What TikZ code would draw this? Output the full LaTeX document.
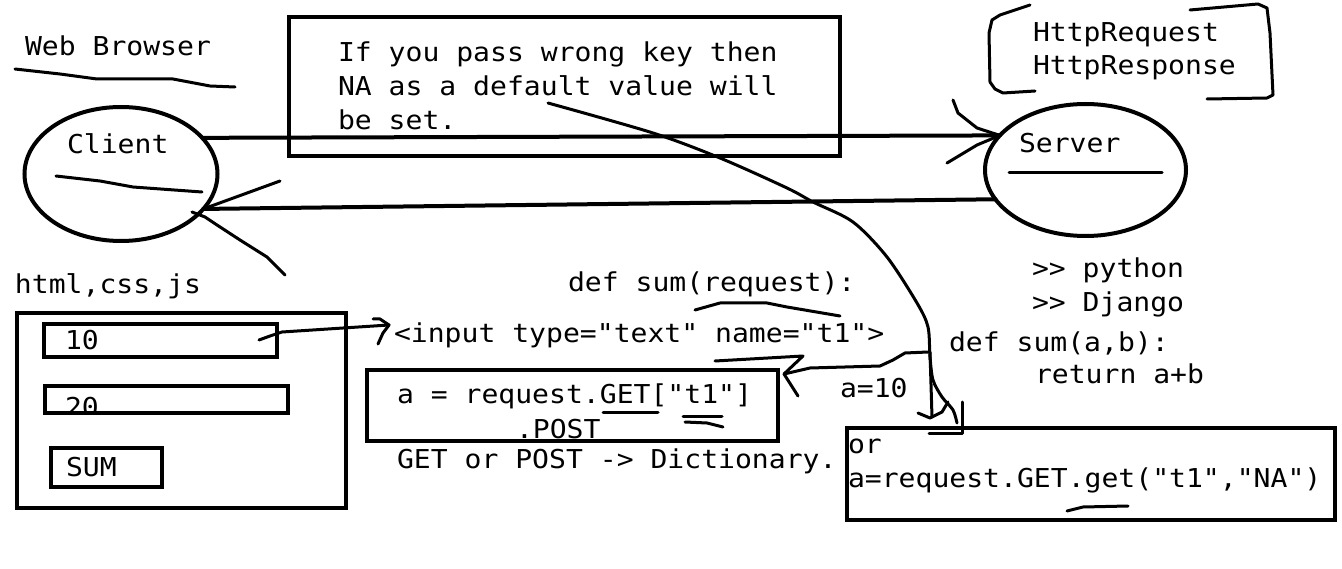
\documentclass[tikz,border=0pt]{standalone}
\usepackage{fontspec}
\setmonofont{DejaVu Sans Mono}[FakeStretch=1.08]
\usetikzlibrary{shapes.geometric}
\begin{document}
\begin{tikzpicture}[x=1pt,y=-1pt,
  txt/.style={anchor=base west, inner sep=0pt, outer sep=0pt, font=\ttfamily\fontsize{26}{34}\selectfont},
  box/.style={draw, line width=4pt, anchor=north west, inner sep=0pt, outer sep=0pt},
  oval/.style={draw, ellipse, line width=4pt, inner sep=0pt, outer sep=0pt},
  hand/.style={line width=3pt, line cap=round, line join=round},
  conn/.style={line width=4pt, line cap=round}]
\useasboundingbox[fill=white] (0,0) rectangle (1342,569);

% Web browser
\node[txt] (wb) at (25,56) {Web Browser};
\draw[hand] (15,69) -- (60,74) -- (97,79) -- (173,79) -- (210,86) -- (235,87);

% note box
\node[box, minimum width=551pt, minimum height=139pt] (note) at (289,17) {};
\node[txt] (n1) at (338,62) {If you pass wrong key then};
\node[txt] (n2) at (338,96) {NA as a default value will};
\node[txt] (n3) at (338,130) {be set.};

% client
\node[oval, minimum width=193pt, minimum height=134pt] (client) at (121,174) {};
\node[txt] (clt) at (67,154) {Client};
\draw[hand] (56,176) -- (100,181) -- (133,187) -- (202,192);

% server
\node[oval, minimum width=201pt, minimum height=132pt] (server) at (1085.5,170) {};
\node[txt] (srt) at (1019,153) {Server};
\draw[hand] (1009,173) -- (1162,173);

% http bracket
\node[txt] (hreq) at (1033,42) {HttpRequest};
\node[txt] (hres) at (1033,75) {HttpResponse};
\draw[hand] (1030,5) -- (1000,15) -- (992,20) -- (989,33) -- (990,82) -- (995,89) -- (1003,93) -- (1035,91);
\draw[hand] (1190,10) -- (1258,4) -- (1267,8) -- (1270,33) -- (1273,95) -- (1267,98) -- (1207,99);

% request / response arrows
\draw[conn] (client.24) -- (server.158);
\coordinate (ta1) at (953,100);
\coordinate (ta2) at (947,163);
\draw[hand] (ta1) -- (958,113) -- (977,128) -- (server.158) -- (977,145) -- (ta2);
\draw[conn] (server.198) -- (client.337);
\coordinate (ba1) at (280,181);
\coordinate (ba2) at (285,275);
\draw[hand] (ba1) -- (client.337);
\draw[hand] (192,212) -- (205,217) -- (217,225) -- (240,240) -- (267,257) -- (ba2);

% html form
\node[txt] (hcj) at (15,294) {html,css,js};
\node[box, minimum width=329pt, minimum height=195pt] (form) at (17,313) {};
\node[box, minimum width=233pt, minimum height=33pt] (in1) at (44,324) {};
\node[txt] (v1) at (65,350) {10};
\begin{scope}
\clip (45,386) rectangle (288,411);
\node[txt] (v2) at (65,417) {20};
\end{scope}
\node[box, minimum width=243pt, minimum height=27pt] (in2) at (45,386) {};
\node[box, minimum width=111pt, minimum height=39pt] (sum) at (51,448) {};
\node[txt] (sumt) at (66,476) {SUM};

% input tag
\node[txt] (inp) at (394,343) {<input type="text" name="t1">};
\coordinate (ia) at (259,340);
\draw[hand] (ia) -- (270,336) -- (282,332) -- (389,325);
\draw[hand] (373,319) -- (380,319) -- (389,325) -- (383,333) -- (378,344);

% def sum(request)
\node[txt] (dsr) at (568,292) {def sum(request):};
\draw[hand] (695,310) -- (720,303) -- (767,303) -- (787,307) -- (840,316);

% request.GET box
\node[box, minimum width=411pt, minimum height=71pt] (getbox) at (367,370) {};
\node[txt] (g1) at (397,403) {a = request.GET["t1"]};
\node[txt] (g2) at (516,438) {.POST};
\draw[hand] (603,412) -- (658,412);
\draw[hand] (683,416) -- (722,416);
\draw[hand] (685,422) -- (707,423) -- (723,427);
\node[txt] (gp) at (397,468) {GET or POST -> Dictionary.};

% a=10 arrow
\coordinate (tip) at (784,374);
\draw[hand] (715,361) -- (803,356) -- (tip) -- (798,396);
\draw[hand] (928,352) -- (905,353) -- (893,360) -- (880,366) -- (810,368) -- (tip);
\node[txt] (a10) at (840,398) {a=10};

% python / django
\node[txt] (py) at (1032,278) {>> python};
\node[txt] (dj) at (1032,312) {>> Django};
\node[txt] (dsab) at (949,352) {def sum(a,b):};
\node[txt] (ret) at (1035,384) {return a+b};

% or box
\node[box, minimum width=488pt, minimum height=92pt] (orbox) at (847,428) {};
\node[txt] (or1) at (848,453) {or};
\node[txt] (or2) at (848,487) {a=request.GET.get("t1","NA")};
\draw[hand] (1067,511) -- (1083,507) -- (1128,506);

% long curve from note to or box
\coordinate (lc) at (548,103);
\draw[hand] plot[smooth, tension=0.5] coordinates {(548,103) (653,133) (720,158) (787,188) (813,202) (853,222) (887,257) (917,303) (928,327) (930,357) (933,380) (942,397) (953,410) (957,423)};
\draw[hand] (930,352) -- (932,417);
\draw[hand] (918,413) -- (930,418) -- (942,412) -- (948,402);
\draw[hand] (962,402) -- (962,433) -- (929,433);
\end{tikzpicture}
\end{document}
